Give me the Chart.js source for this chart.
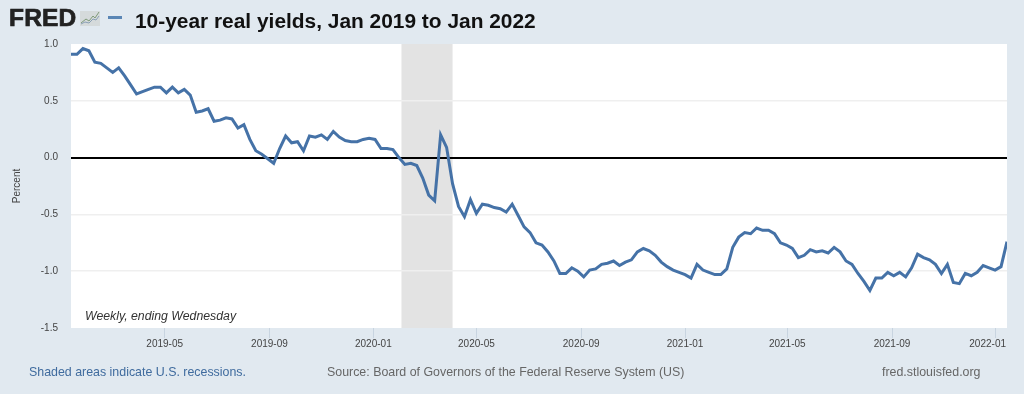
<!DOCTYPE html>
<html>
<head>
<meta charset="utf-8">
<title>10-year real yields</title>
<script src="https://cdn.jsdelivr.net/npm/chart.js@4"></script>
<style>
	html, body { margin: 0; padding: 0; background: #e1e9f0; }
	#wrap { position: relative; width: 1024px; height: 394px; overflow: hidden; font-family: "Liberation Sans", Arial, sans-serif; }
	#yields { position: absolute; left: 0; top: 0; }
	.txt { position: absolute; white-space: nowrap; }
	#logo { left: 9px; top: 3px; font-size: 24.5px; line-height: 30px; font-weight: bold; color: #222; letter-spacing: 0.2px; -webkit-text-stroke: 0.7px #222; }
	#icon { position: absolute; left: 80px; top: 9px; }
	#dash { position: absolute; left: 108px; top: 16px; width: 14px; height: 3px; background: #5a86b5; }
	#title { left: 135px; top: 9px; font-size: 20.9px; line-height: 24px; font-weight: bold; color: #111; }
	#note { left: 85px; top: 309px; font-size: 12.3px; line-height: 14px; font-style: italic; color: #333; }
	.foot { top: 365px; font-size: 12.4px; line-height: 15px; }
</style>
</head>
<body>
<div id="wrap">
	<canvas id="yields" width="1024" height="394"></canvas>
	<div class="txt" id="logo">FRED</div>
	<svg id="icon" width="20" height="17" viewBox="0 0 20 17">
		<rect x="0" y="2" width="20" height="15" fill="#d5dadb"/>
		<polyline points="1,14 6,10 9,12 13,7 15,9 19,3" fill="none" stroke="#7f9a7a" stroke-width="1"/>
		<polyline points="1,15 5,13 9,14 13,10 16,11 19,7" fill="none" stroke="#8aa0b5" stroke-width="1"/>
	</svg>
	<div id="dash"></div>
	<div class="txt" id="title">10-year real yields, Jan 2019 to Jan 2022</div>
	<div class="txt" id="note">Weekly, ending Wednesday</div>
	<div class="txt foot" style="left:29px;color:#3f6b9e">Shaded areas indicate U.S. recessions.</div>
	<div class="txt foot" style="left:327px;color:#666">Source: Board of Governors of the Federal Reserve System (US)</div>
	<div class="txt foot" style="left:882px;color:#666">fred.stlouisfed.org</div>
</div>
<script>
const weeks = [
	'2019-01-09','2019-01-16','2019-01-23','2019-01-30','2019-02-06','2019-02-13','2019-02-20','2019-02-27',
	'2019-03-06','2019-03-13','2019-03-20','2019-03-27','2019-04-03','2019-04-10','2019-04-17','2019-04-24',
	'2019-05-01','2019-05-08','2019-05-15','2019-05-22','2019-05-29','2019-06-05','2019-06-12','2019-06-19','2019-06-26',
	'2019-07-03','2019-07-10','2019-07-17','2019-07-24','2019-07-31','2019-08-07','2019-08-14','2019-08-21','2019-08-28',
	'2019-09-04','2019-09-11','2019-09-18','2019-09-25','2019-10-02','2019-10-09','2019-10-16','2019-10-23','2019-10-30',
	'2019-11-06','2019-11-13','2019-11-20','2019-11-27','2019-12-04','2019-12-11','2019-12-18','2019-12-25',
	'2020-01-01','2020-01-08','2020-01-15','2020-01-22','2020-01-29','2020-02-05','2020-02-12','2020-02-19','2020-02-26',
	'2020-03-04','2020-03-11','2020-03-18','2020-03-25','2020-04-01','2020-04-08','2020-04-15','2020-04-22','2020-04-29',
	'2020-05-06','2020-05-13','2020-05-20','2020-05-27','2020-06-03','2020-06-10','2020-06-17','2020-06-24',
	'2020-07-01','2020-07-08','2020-07-15','2020-07-22','2020-07-29','2020-08-05','2020-08-12','2020-08-19','2020-08-26',
	'2020-09-02','2020-09-09','2020-09-16','2020-09-23','2020-09-30','2020-10-07','2020-10-14','2020-10-21','2020-10-28',
	'2020-11-04','2020-11-11','2020-11-18','2020-11-25','2020-12-02','2020-12-09','2020-12-16','2020-12-23','2020-12-30',
	'2021-01-06','2021-01-13','2021-01-20','2021-01-27','2021-02-03','2021-02-10','2021-02-17','2021-02-24',
	'2021-03-03','2021-03-10','2021-03-17','2021-03-24','2021-03-31','2021-04-07','2021-04-14','2021-04-21','2021-04-28',
	'2021-05-05','2021-05-12','2021-05-19','2021-05-26','2021-06-02','2021-06-09','2021-06-16','2021-06-23','2021-06-30',
	'2021-07-07','2021-07-14','2021-07-21','2021-07-28','2021-08-04','2021-08-11','2021-08-18','2021-08-25',
	'2021-09-01','2021-09-08','2021-09-15','2021-09-22','2021-09-29','2021-10-06','2021-10-13','2021-10-20','2021-10-27',
	'2021-11-03','2021-11-10','2021-11-17','2021-11-24','2021-12-01','2021-12-08','2021-12-15','2021-12-22','2021-12-29',
	'2022-01-05','2022-01-12'
];

const realYields = [
	0.91,0.91,0.96,0.94,0.84,0.83,0.79,0.75,0.79,0.72,0.64,0.56,0.58,0.60,0.62,0.62,
	0.57,0.62,0.57,0.60,0.55,0.40,0.41,0.43,0.32,0.33,0.35,0.34,0.26,0.29,0.16,0.06,0.03,-0.01,
	-0.05,0.08,0.19,0.13,0.14,0.06,0.19,0.18,0.20,0.16,0.23,0.18,0.15,0.14,0.14,0.16,0.17,
	0.16,0.08,0.08,0.07,0.00,-0.06,-0.05,-0.07,-0.18,-0.33,-0.38,0.20,0.09,-0.23,-0.43,-0.52,-0.37,-0.49,
	-0.41,-0.42,-0.44,-0.45,-0.48,-0.41,-0.51,-0.61,-0.66,-0.75,-0.77,-0.83,-0.91,-1.02,-1.02,-0.97,-1.00,
	-1.05,-0.99,-0.98,-0.94,-0.93,-0.91,-0.95,-0.92,-0.90,-0.83,-0.80,-0.82,-0.86,-0.92,-0.96,-0.99,-1.01,-1.03,
	-1.06,-0.94,-0.99,-1.01,-1.03,-1.03,-0.98,-0.79,-0.70,-0.66,-0.67,-0.62,-0.64,-0.64,-0.67,-0.75,-0.77,
	-0.80,-0.88,-0.86,-0.81,-0.83,-0.82,-0.84,-0.79,-0.83,-0.91,-0.94,-1.02,-1.09,-1.17,-1.06,-1.06,-1.01,
	-1.04,-1.01,-1.05,-0.97,-0.85,-0.88,-0.90,-0.94,-1.02,-0.94,-1.10,-1.11,-1.02,-1.04,-1.01,-0.95,-0.97,-0.99,
	-0.96,-0.74
];

const tickDates = ['2019-04-29','2019-08-30','2019-12-30','2020-04-29','2020-08-30','2020-12-30','2021-04-29','2021-08-30','2021-12-30'];
const tickLabels = ['2019-05','2019-09','2020-01','2020-05','2020-09','2021-01','2021-05','2021-09','2022-01'];
const yTicks = [-1.5, -1.0, -0.5, 0.0, 0.5, 1.0];
const recessionStart = '2020-02-01';
const recessionEnd = '2020-04-01';

const tickTimes = tickDates.map(d => Date.parse(d));

// white plot area and the recession band go under the grid
const plotBackground = {
	id: 'plotBackground',
	beforeDraw(chart) {
		const { ctx, chartArea: a, scales } = chart;
		const x0 = scales.x.getPixelForValue(Date.parse(recessionStart));
		const x1 = scales.x.getPixelForValue(Date.parse(recessionEnd));
		ctx.save();
		ctx.fillStyle = '#ffffff';
		ctx.fillRect(a.left, a.top, a.width, a.height);
		ctx.fillStyle = '#e3e3e3';
		ctx.fillRect(x0, a.top, x1 - x0, a.height);
		ctx.restore();

		// last label is pushed back inside the plot, as on the FRED graph
		const items = scales.x.getLabelItems();
		const last = items[items.length - 1];
		if (last) {
			last.options.textAlign = 'right';
			last.options.translation = [a.right - 1, last.options.translation[1]];
		}
	}
};

const config_yields = {
	type: 'line',
	data: {
		datasets: [{
			label: '10-year real yields',
			data: weeks.map((w, i) => ({ x: Date.parse(w), y: realYields[i] })),
			borderColor: '#4572a7',
			borderWidth: 3,
			pointRadius: 0,
			tension: 0,
			borderJoinStyle: 'miter',
		}]
	},
	options: {
		responsive: false,
		animation: false,
		layout: { padding: { top: 44, right: 17, left: 0, bottom: 0 } },
		plugins: {
			legend: { display: false },
			title: { display: false },
			tooltip: { enabled: false },
		},
		scales: {
			x: {
				type: 'linear',
				min: Date.parse(weeks[0]),
				max: Date.parse(weeks[weeks.length - 1]),
				afterBuildTicks: axis => { axis.ticks = tickTimes.map(v => ({ value: v })); },
				afterFit: axis => { axis.height = 66; },
				border: { display: false },
				grid: { drawOnChartArea: false, drawTicks: true, tickLength: 10, tickColor: '#c8d4e0', tickWidth: 1 },
				ticks: {
					autoSkip: false,
					maxRotation: 0,
					padding: 0,
					color: '#444444',
					font: { family: '"Liberation Sans", Arial, sans-serif', size: 10 },
					callback: value => tickLabels[tickTimes.indexOf(value)],
				},
			},
			y: {
				min: -1.5,
				max: 1,
				afterBuildTicks: axis => { axis.ticks = yTicks.map(v => ({ value: v })); },
				afterFit: axis => { axis.width = 71; },
				border: { display: false },
				grid: {
					drawTicks: false,
					color: c => c.tick.value === 0 ? '#000000' : (c.tick.value === -1.5 || c.tick.value === 1 ? 'rgba(0,0,0,0)' : '#efefef'),
					lineWidth: c => c.tick.value === 0 ? 2 : 1.5,
				},
				title: {
					display: true,
					text: 'Percent',
					color: '#444444',
					padding: { top: 11, bottom: 0 },
					font: { family: '"Liberation Sans", Arial, sans-serif', size: 10 },
				},
				ticks: {
					padding: 13,
					color: '#444444',
					font: { family: '"Liberation Sans", Arial, sans-serif', size: 10 },
					callback: value => value.toFixed(1),
				},
			},
		}
	},
	plugins: [plotBackground],
};

const yields = new Chart(document.getElementById('yields'), config_yields);
</script>
</body>
</html>
